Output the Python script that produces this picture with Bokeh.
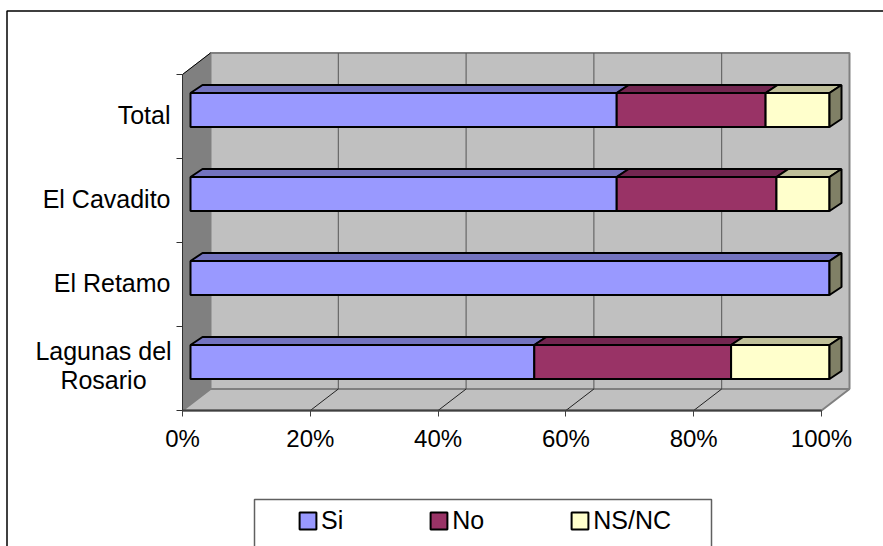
from bokeh.plotting import figure
from bokeh.models import Range1d, FixedTicker, Legend, LegendItem
from bokeh.core.properties import value
from bokeh.embed import file_html
from bokeh.resources import INLINE

categories = ["Lagunas del\nRosario", "El Retamo", "El Cavadito", "Total"]
si = [53.8, 100.0, 66.7, 66.7]
no = [30.8, 0.0, 25.0, 23.3]
ns = [15.4, 0.0, 8.3, 10.0]
series = [("Si", si, "#9999FF", "#7373BF"), ("No", no, "#993366", "#732650"), ("NS/NC", ns, "#FFFFCC", "#BFBF99")]
side_colour = "#808066"
x_ticks = [0, 20, 40, 60, 80, 100]

W, H = 883, 546
PX0, PX100 = 182.0, 821.0      # front plane of the value axis
PY0, PY4 = 410.0, 74.0         # front plane of the category axis
SX = (PX100 - PX0) / 100.0
SY = (PY0 - PY4) / 4.0
DX, DY = 28.0 / SX, 21.5 / SY  # full depth of the box, in data units

def fx(px): return (px - PX0) / SX
def fy(py): return (PY0 - py) / SY

p = figure(width=W, height=H, output_backend="svg", toolbar_location=None,
           x_range=Range1d(fx(0), fx(W)), y_range=Range1d(fy(H), fy(0)),
           min_border=0, min_border_left=0, min_border_right=0, min_border_top=0, min_border_bottom=0,
           outline_line_color=None, x_axis_location="below", y_axis_location="left")
p.grid.visible = False

# outer chart frame
p.line([fx(6.5), fx(6.5), fx(W)], [fy(H), fy(10.5), fy(10.5)], line_color="black", line_width=1.5)

# box: back wall, left wall, floor
p.quad(left=[DX], right=[100 + DX], bottom=[DY], top=[4 + DY], fill_color="#C0C0C0",
       line_color="#808080", line_width=2)
p.patch([0, DX, DX, 0], [0, DY, 4 + DY, 4], fill_color="#808080", line_color="#808080", line_width=1)
p.patch([0, 100, 100 + DX, DX], [0, 0, DY, DY], fill_color="#C0C0C0", line_color="#808080", line_width=2)
p.line([0, DX], [4, 4 + DY], line_color="black", line_width=1)

# gridlines on wall and floor
gx = x_ticks[1:-1]
p.segment(x0=[v + DX for v in gx], x1=[v + DX for v in gx], y0=[DY] * 4, y1=[4 + DY] * 4,
          line_color="#555555", line_width=1)
p.segment(x0=gx, x1=[v + DX for v in gx], y0=[0] * 4, y1=[DY] * 4, line_color="#222222", line_width=1)

# axes
p.xaxis.fixed_location = 0
p.xaxis.bounds = (0, 100)
p.xaxis.ticker = FixedTicker(ticks=x_ticks)
p.xaxis.major_label_overrides = {v: f"{v}%" for v in x_ticks}
p.xaxis.major_tick_in = 0
p.xaxis.major_tick_out = 6
p.xaxis.minor_tick_line_color = None
p.xaxis.axis_line_color = "#404040"
p.xaxis.axis_line_width = 2
p.xaxis.major_tick_line_color = "#404040"
p.xaxis.major_label_text_font = "Liberation Sans"
p.xaxis.major_label_text_font_size = "24px"
p.xaxis.major_label_text_color = "black"
p.xaxis.major_label_standoff = 8

p.yaxis.fixed_location = 0
p.yaxis.bounds = (0, 4)
p.yaxis.ticker = FixedTicker(ticks=[0, 1, 2, 3, 4])
p.yaxis.major_label_text_font_size = "0px"
p.yaxis.major_label_overrides = {v: "" for v in range(5)}
p.yaxis.major_tick_in = 0
p.yaxis.major_tick_out = 6
p.yaxis.minor_tick_line_color = None
p.yaxis.axis_line_color = "#303030"
p.yaxis.major_tick_line_color = "#303030"

# category labels: block centred for the two-line one, right-aligned for the others
label_y = [i + 0.5 + 2.0 / SY for i in range(4)]
label_common = dict(text_font=value("Liberation Sans"), text_font_size="25px", text_color="black",
                    text_baseline="middle", text_line_height=1.05)
p.text(x=[fx(170)] * 3, y=label_y[1:], text=categories[1:], text_align="right", **label_common)
p.text(x=[fx(103)], y=[label_y[0] + 1.0 / SY], text=categories[:1], text_align="center", **label_common)

# stacked 3-D bars
BAR_H = 34.0 / SY
D0X, D0Y = 8.0 / SX, 6.5 / SY     # bar front face offset
BDX, BDY = 12.0 / SX, 8.0 / SY    # bar depth
centres = [i + 0.5 + D0Y for i in range(4)]

legend_items = []
left = [0.0] * 4
for name, vals, col, top_col in series:
    right = [l + v for l, v in zip(left, vals)]
    idx = [i for i, v in enumerate(vals) if v > 0]
    p.patches(xs=[[left[i] + D0X, right[i] + D0X, right[i] + D0X + BDX, left[i] + D0X + BDX] for i in idx],
              ys=[[centres[i] + BAR_H / 2, centres[i] + BAR_H / 2, centres[i] + BAR_H / 2 + BDY, centres[i] + BAR_H / 2 + BDY] for i in idx],
              fill_color=top_col, line_color="black", line_width=2)
    r = p.hbar(y=[centres[i] for i in idx], height=BAR_H, left=[left[i] + D0X for i in idx],
               right=[right[i] + D0X for i in idx], fill_color=col, line_color="black", line_width=2)
    legend_items.append(LegendItem(label=name, renderers=[r]))
    left = right

p.patches(xs=[[left[i] + D0X, left[i] + D0X + BDX, left[i] + D0X + BDX, left[i] + D0X] for i in range(4)],
          ys=[[centres[i] - BAR_H / 2, centres[i] - BAR_H / 2 + BDY, centres[i] + BAR_H / 2 + BDY, centres[i] + BAR_H / 2] for i in range(4)],
          fill_color=side_colour, line_color="black", line_width=2)

# legend box and legend
p.quad(left=[fx(254)], right=[fx(711)], top=[fy(499)], bottom=[fy(570)], fill_color="white",
       line_color="#606060", line_width=1.5)
legend = Legend(items=legend_items, orientation="horizontal", location=(297, H - 535), padding=0, margin=0,
                spacing=85, glyph_width=21, glyph_height=21, label_standoff=3, label_height=17,
                label_text_font="Liberation Sans", label_text_font_size="25px", label_text_color="black",
                background_fill_alpha=0, border_line_color=None)
p.add_layout(legend, "center")

open("out.html", "w").write(file_html(p, INLINE))
